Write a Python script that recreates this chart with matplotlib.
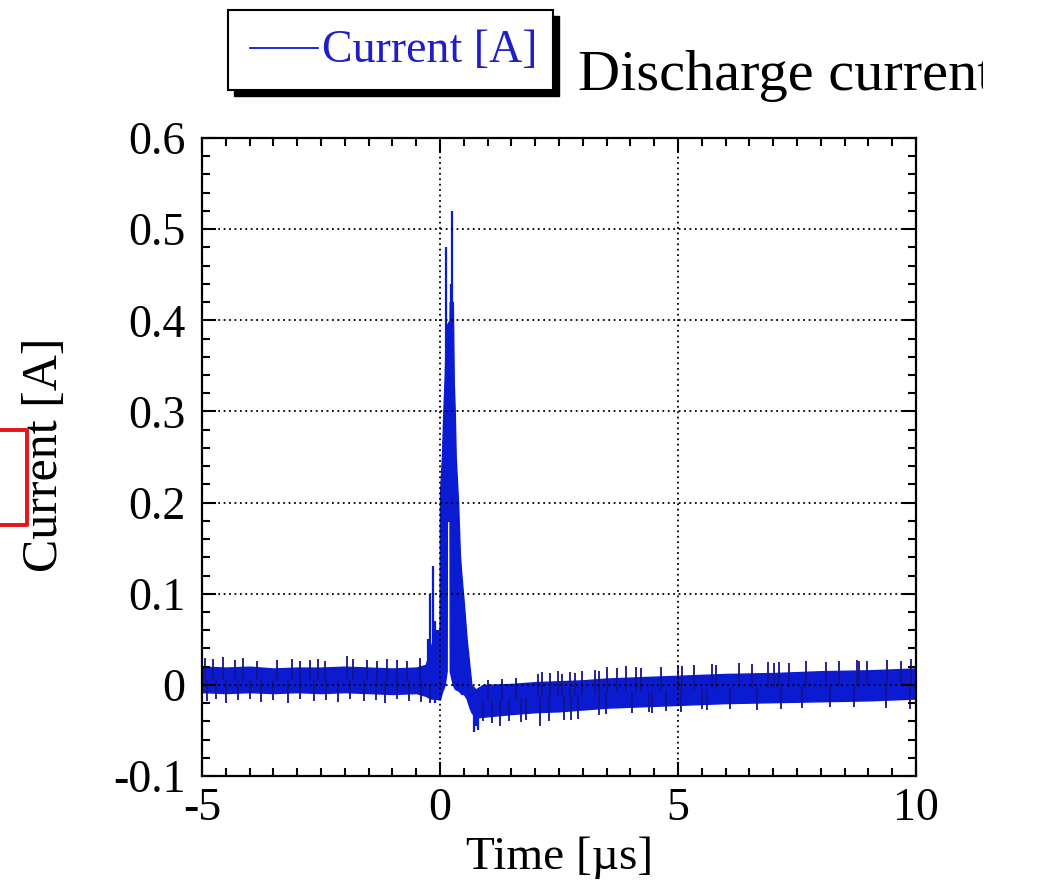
import numpy as np
import matplotlib
matplotlib.use('Agg')
import matplotlib.pyplot as plt
from matplotlib.patches import Rectangle
from matplotlib.lines import Line2D
from matplotlib.ticker import MultipleLocator, FuncFormatter

plt.rcParams['font.family'] = ['Liberation Serif', 'DejaVu Serif']
plt.rcParams['axes.unicode_minus'] = False

# noise band of the scope trace: time [us], upper / lower edge [A]
t_env = [-5.0, -4.5, -4.0, -3.5, -3.0, -2.5, -2.0, -1.5, -1.0, -0.5, -0.3,
         -0.2, -0.1, -0.01, 0.0, 0.04, 0.07, 0.1, 0.12, 0.14, 0.145, 0.2,
         0.205, 0.27, 0.29, 0.31, 0.33, 0.38, 0.42, 0.45, 0.5, 0.56, 0.62,
         0.66, 0.75, 0.9, 1.5, 2.0, 2.5, 3.0, 3.5, 4.0, 5.0, 6.0, 7.0, 8.0,
         9.0, 10.0]
i_upper = [0.020, 0.019, 0.020, 0.018, 0.019, 0.019, 0.020, 0.019, 0.018, 0.019, 0.022,
           0.040, 0.060, 0.060, 0.210, 0.250, 0.300, 0.340, 0.380, 0.395, 0.395, 0.400,
           0.420, 0.420, 0.330, 0.300, 0.250, 0.200, 0.140, 0.120, 0.090, 0.050, 0.020,
           0.000, -0.005, 0.000, 0.001, 0.003, 0.004, 0.005, 0.007, 0.008, 0.010, 0.012,
           0.013, 0.015, 0.016, 0.018]
i_lower = [-0.008, -0.009, -0.008, -0.009, -0.008, -0.009, -0.008, -0.009, -0.010, -0.009, -0.012,
           -0.015, -0.015, -0.016, -0.016, -0.008, -0.004, 0.000, 0.008, 0.015, 0.180, 0.180,
           0.015, 0.000, -0.002, -0.004, -0.005, -0.006, -0.008, -0.010, -0.010, -0.015, -0.025,
           -0.030, -0.036, -0.035, -0.032, -0.030, -0.029, -0.027, -0.025, -0.024, -0.022, -0.020,
           -0.019, -0.018, -0.017, -0.015]

# single samples sticking out of the band
up_t = [-4.94, -4.77, -4.56, -4.31, -4.14, -3.85, -3.43, -3.11, -2.94, -2.73, -2.56, -2.42,
        -1.96, -1.83, -1.54, -1.33, -1.12, -0.91, -0.70, -0.43,
        1.0, 1.3, 1.6, 2.05, 2.14, 2.31, 2.47, 2.56, 2.73, 2.83, 2.98, 3.25, 3.35, 3.51,
        3.71, 3.91, 4.12, 4.23, 4.65, 4.99, 5.09, 5.34, 5.72, 5.80, 6.29, 6.56, 6.88,
        7.02, 7.13, 7.34, 7.69, 8.11, 8.39, 8.75, 8.81, 8.96, 9.38, 9.69, 9.90]
up_v = [0.030, 0.028, 0.031, 0.027, 0.029, 0.026, 0.027, 0.028, 0.026, 0.027, 0.028, 0.026,
        0.032, 0.028, 0.027, 0.026, 0.028, 0.027, 0.026, 0.030,
        0.005, 0.006, 0.008, 0.012, 0.014, 0.013, 0.015, 0.012, 0.014, 0.013, 0.015, 0.016, 0.015, 0.020,
        0.018, 0.021, 0.020, 0.019, 0.020, 0.022, 0.021, 0.022, 0.023, 0.022, 0.024, 0.023, 0.025,
        0.024, 0.025, 0.024, 0.026, 0.025, 0.026, 0.027, 0.026, 0.026, 0.027, 0.026, 0.028]
dn_t = [-4.90, -4.70, -4.50, -4.25, -4.00, -3.75, -3.50, -3.20, -2.95, -2.65, -2.40, -2.15,
        -1.90, -1.60, -1.35, -1.15, -0.90, -0.65, -0.40, -0.20,
        0.90, 1.10, 1.26, 1.45, 1.70, 1.80, 2.10, 2.30, 2.60, 2.75, 2.90, 3.34, 3.49, 4.04,
        4.39, 4.45, 4.75, 5.06, 5.50, 5.61, 6.10, 6.66, 7.16, 7.60, 8.20, 8.70, 9.36, 9.88]
dn_v = [-0.018, -0.016, -0.020, -0.017, -0.016, -0.019, -0.017, -0.020, -0.016, -0.018, -0.017, -0.019,
        -0.016, -0.018, -0.017, -0.020, -0.016, -0.018, -0.019, -0.020,
        -0.040, -0.042, -0.045, -0.040, -0.041, -0.039, -0.045, -0.040, -0.039, -0.038, -0.037, -0.033, -0.032, -0.031,
        -0.030, -0.031, -0.029, -0.030, -0.027, -0.028, -0.026, -0.028, -0.026, -0.025, -0.024, -0.024, -0.025, -0.026]

# spikes around the discharge pulse
pulse_t = [-0.25, -0.21, -0.15, -0.10, 0.12, 0.23, 0.245, 0.43, 0.72, 0.76, 0.80]
pulse_lo = [0.000, 0.000, -0.010, -0.020, 0.300, 0.300, 0.300, 0.050, -0.052, -0.045, -0.050]
pulse_hi = [0.050, 0.100, 0.130, 0.070, 0.480, 0.440, 0.520, 0.140, -0.030, -0.030, -0.030]

BLUE = '#0b1bd2'
DARK = '#14148c'

fig = plt.figure(figsize=(10.4, 8.88), dpi=100)
ax = fig.add_axes([0.1942, 0.1261, 0.6866, 0.7185])

ax.fill_between(t_env, i_lower, i_upper, facecolor=BLUE, edgecolor=BLUE, lw=1.0)
mid = (np.array(i_upper) + np.array(i_lower)) / 2
ax.vlines(up_t, np.interp(up_t, t_env, mid), up_v, color=DARK, lw=1.3)
ax.vlines(dn_t, np.interp(dn_t, t_env, mid), dn_v, color=DARK, lw=1.3)
ax.vlines(pulse_t, pulse_lo, pulse_hi, color=BLUE, lw=1.6)

ax.set_xlim(-5, 10)
ax.set_ylim(-0.1, 0.6)
ax.xaxis.set_major_locator(MultipleLocator(5))
ax.xaxis.set_minor_locator(MultipleLocator(0.5))
ax.yaxis.set_major_locator(MultipleLocator(0.1))
ax.yaxis.set_minor_locator(MultipleLocator(0.02))
ax.yaxis.set_major_formatter(FuncFormatter(lambda v, p: '0' if abs(v) < 1e-9 else f'{v:.1f}'))
ax.xaxis.set_major_formatter(FuncFormatter(lambda v, p: f'{v:.0f}'))
ax.tick_params(which='both', direction='in', top=True, right=True, width=1.5,
               labelsize=33, color='black')
ax.tick_params(which='major', length=10)
ax.tick_params(which='minor', length=6)
ax.tick_params(axis='y', pad=12)
ax.tick_params(axis='x', pad=8)
ax.grid(True, which='major', color='black', linestyle=(0, (1, 2)), lw=1.3)
ax.set_axisbelow(False)
for s in ax.spines.values():
    s.set_linewidth(1.6)

fig.text(45 / 1040, 1 - 455 / 888, 'Current [A]', rotation=90, fontsize=36,
         ha='center', va='center')
fig.text(560 / 1040, 1 - 858 / 888, 'Time [µs]', fontsize=34, ha='center', va='center')

# legend box with drop shadow
fig.patches.append(Rectangle((234 / 1040, 1 - 96 / 888), 325 / 1040, 80 / 888,
                             transform=fig.transFigure, facecolor='black', edgecolor='black'))
fig.patches.append(Rectangle((228 / 1040, 1 - 90 / 888), 325 / 1040, 80 / 888,
                             transform=fig.transFigure, facecolor='white', edgecolor='black', lw=1.5))
fig.lines.append(Line2D([250 / 1040, 318 / 1040], [1 - 48 / 888, 1 - 48 / 888],
                        transform=fig.transFigure, color=BLUE, lw=1.3))
fig.text(322 / 1040, 1 - 51 / 888, 'Current [A]', color='#1f1fc8', fontsize=33,
         ha='left', va='center')

fig.text(578 / 1040, 1 - 90 / 888, 'Discharge current', fontsize=42, ha='left', va='baseline')
fig.patches.append(Rectangle((983 / 1040, 1 - 115 / 888), 57 / 1040, 115 / 888,
                             transform=fig.transFigure, facecolor='white', edgecolor='none',
                             zorder=10))

# red bracket at the left edge
fig.lines.append(Line2D([0, 27 / 1040, 27 / 1040, 0],
                        [1 - 430 / 888, 1 - 430 / 888, 1 - 525 / 888, 1 - 525 / 888],
                        transform=fig.transFigure, color='#e6141a', lw=2.8))

fig.savefig('out.png', dpi=100)
